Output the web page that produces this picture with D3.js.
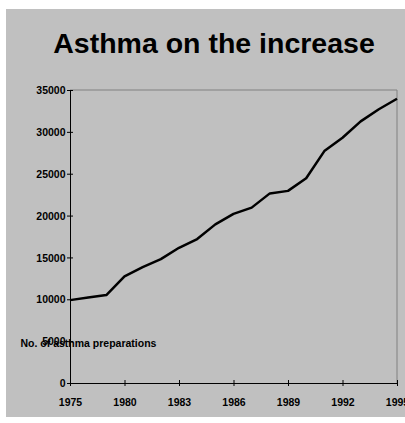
<!DOCTYPE html>
<html><head><meta charset="utf-8">
<script src="https://cdn.jsdelivr.net/npm/d3@7"></script>
<style>
html,body{margin:0;padding:0;background:#fff;overflow:hidden;}
svg{display:block;}
text{font-family:"Liberation Sans",Arial,sans-serif;font-weight:bold;fill:#000;}
</style></head>
<body>
<script>
const categories = ["1975","1977","1979","1980","1981","1982","1983","1984","1985","1986","1987","1988","1989","1990","1991","1992","1993","1994","1995"];
const preparations = [9900,10200,10500,12750,13850,14800,16150,17200,18950,20200,20950,22650,22950,24450,27700,29300,31250,32700,33950];
const yTicks = [0,5000,10000,15000,20000,25000,30000,35000];
const title = "Asthma on the increase";
const yTitle = "No. of asthma preparations";

const W = 405, H = 423;
const svg = d3.select("body").append("svg").attr("width", W).attr("height", H);

// background panel
svg.append("rect").attr("x",6).attr("y",9).attr("width",W+20).attr("height",408).attr("fill","#c0c0c0");

const x = d3.scalePoint().domain(categories).range([70,397]);
const y = d3.scaleLinear().domain([0,35000]).range([383,90]);

// plot area border (top/right)
svg.append("path")
  .attr("d",`M${x.range()[0]},${y(35000)}H${x.range()[1]}V${y(0)}`)
  .attr("fill","none").attr("stroke","#808080").attr("stroke-width",1);

// title
svg.append("text").attr("x",214).attr("y",53).attr("text-anchor","middle")
  .style("font-size","28.5px").text(title);

// y axis
const yAxis = svg.append("g").attr("transform","translate(70,0)")
  .call(d3.axisLeft(y).tickValues(yTicks).tickFormat(d3.format("d")).tickSizeOuter(0).tickSizeInner(3));
yAxis.select(".domain").attr("stroke","#000");
yAxis.selectAll(".tick line").attr("x1",-3).attr("x2",3).attr("stroke","#000");
yAxis.selectAll(".tick text").attr("x",-4.5).attr("dy","0.35em")
  .style("font-size","10.5px").style("font-family","'Liberation Sans',Arial,sans-serif").style("font-weight","bold");

// x axis
const labelled = categories.filter((d,i)=>i%3===0);
const xAxis = svg.append("g").attr("transform",`translate(0,${y(0)})`)
  .call(d3.axisBottom(x).tickValues(labelled).tickSizeOuter(0).tickSizeInner(3));
xAxis.select(".domain").attr("stroke","#000");
xAxis.selectAll(".tick line").attr("y1",-3).attr("y2",3).attr("stroke","#000");
xAxis.selectAll(".tick text").attr("y",23).attr("dy",0)
  .style("font-size","10.5px").style("font-family","'Liberation Sans',Arial,sans-serif").style("font-weight","bold");

// line
const line = d3.line().x((d,i)=>x(categories[i])).y(d=>y(d));
svg.append("path").datum(preparations).attr("d",line)
  .attr("fill","none").attr("stroke","#000").attr("stroke-width",2.5).attr("stroke-linejoin","round");

// y title
svg.append("text").attr("x",20.5).attr("y",347).style("font-size","10.5px").text(yTitle);
</script>
</body></html>
